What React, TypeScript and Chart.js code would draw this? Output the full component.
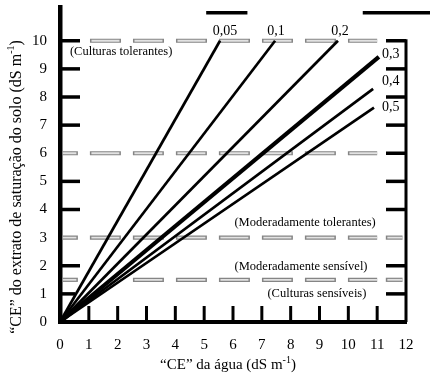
import React, { useEffect, useRef } from 'react';
import { Chart, registerables } from 'chart.js';

Chart.register(...registerables);

// ---- data ----
const leachingFractions = ['0,05', '0,1', '0,2', '0,3', '0,4', '0,5'];
const lineEndWater = [5.55, 7.46, 9.64, 11.06, 10.86, 10.89];
const lineEndSoil = [10, 10, 10, 9.43, 8.29, 7.62];

const xTickValues = [0, 1, 2, 3, 4, 5, 6, 7, 8, 9, 10, 11, 12];
const yTickValues = [0, 1, 2, 3, 4, 5, 6, 7, 8, 9, 10];

const toleranceLabels = [
  '(Culturas tolerantes)',
  '(Moderadamente tolerantes)',
  '(Moderadamente sensível)',
  '(Culturas sensíveis)',
];
// dashed class limits (level, from, to)
const limitLevel = [10, 6, 3, 1.5, 1.5, 3, 1.5];
const limitFrom = [1.04, 0.1, 0.1, 0.1, 2.53, 11.3, 11.3];
const limitTo = [11.0, 11.0, 11.0, 0.62, 11.0, 11.88, 11.88];

const leftTickValues = [1, 2, 4, 5, 7, 8, 9, 10];
const rightTickValues = [1, 2, 4, 5, 6, 7, 8, 9, 10];
const bottomTickValues = [1, 2, 3, 4, 5, 6, 7, 8, 9, 10, 11];
const topMarkLevel = 11.0;
const topMarkFrom = [5.07, 10.5];
const topMarkTo = [6.5, 12.85];

// ---- styles / placement ----
const SERIF = '"Liberation Serif", "Times New Roman", serif';
const limitPhase = [0, 16, 16, 16, 0, 0, 0];
const fanWidths = [2.7, 2.7, 2.7, 4.2, 2.7, 2.7];
const fanLabelPos = [
  { x: 5.72, y: 10.32, align: 'center' },
  { x: 7.49, y: 10.32, align: 'center' },
  { x: 9.71, y: 10.32, align: 'center' },
  { x: 11.17, y: 9.5, align: 'left' },
  { x: 11.17, y: 8.54, align: 'left' },
  { x: 11.17, y: 7.62, align: 'left' },
];
const classLabelPos = [
  { x: 2.12, y: 9.6 },
  { x: 8.5, y: 3.52 },
  { x: 8.36, y: 1.96 },
  { x: 8.91, y: 1.0 },
];

function drawSupText(ctx: CanvasRenderingContext2D, main: string, sup: string, tail: string, size: number) {
  ctx.font = `${size}px ${SERIF}`;
  const w1 = ctx.measureText(main).width;
  const w3 = ctx.measureText(tail).width;
  ctx.font = `${Math.round(size * 0.65)}px ${SERIF}`;
  const w2 = ctx.measureText(sup).width;
  let x = -(w1 + w2 + w3) / 2;
  ctx.textAlign = 'left';
  ctx.textBaseline = 'middle';
  ctx.font = `${size}px ${SERIF}`;
  ctx.fillText(main, x, 0);
  x += w1;
  ctx.font = `${Math.round(size * 0.65)}px ${SERIF}`;
  ctx.fillText(sup, x, -size * 0.33);
  x += w2;
  ctx.font = `${size}px ${SERIF}`;
  ctx.fillText(tail, x, 0);
}

const overlayPlugin = {
  id: 'overlay',
  afterDatasetsDraw(chart: any) {
    const { ctx, scales } = chart;
    const xs = scales.x;
    const ys = scales.y;
    const px = (v: number) => xs.getPixelForValue(v);
    const py = (v: number) => ys.getPixelForValue(v);
    const seg = (x1: number, y1: number, x2: number, y2: number) => {
      ctx.beginPath();
      ctx.moveTo(x1, y1);
      ctx.lineTo(x2, y2);
      ctx.stroke();
    };
    ctx.save();
    ctx.strokeStyle = '#000';
    ctx.lineCap = 'butt';
    // right frame line
    ctx.lineWidth = 3;
    seg(px(12), py(0), px(12), py(10) - 1.5);
    // inward ticks
    ctx.lineWidth = 3.5;
    leftTickValues.forEach((v) => seg(px(0), py(v), px(0) + (v === 1 ? 15 : 20), py(v)));
    rightTickValues.forEach((v) => seg(px(12), py(v), px(12) - 20, py(v)));
    ctx.lineWidth = 3;
    bottomTickValues.forEach((v) => seg(px(v), py(0), px(v), py(0) - 16));
    // top marks
    ctx.lineWidth = 3.5;
    topMarkFrom.forEach((f, i) => seg(px(f), py(topMarkLevel), px(topMarkTo[i]), py(topMarkLevel)));
    ctx.restore();
  },
  afterDraw(chart: any) {
    const { ctx, scales } = chart;
    const xs = scales.x;
    const ys = scales.y;
    const px = (v: number) => xs.getPixelForValue(v);
    const py = (v: number) => ys.getPixelForValue(v);
    ctx.save();
    ctx.fillStyle = '#000';
    ctx.textBaseline = 'middle';
    ctx.font = `14px ${SERIF}`;
    leachingFractions.forEach((t, i) => {
      const p = fanLabelPos[i];
      ctx.textAlign = p.align as CanvasTextAlign;
      ctx.fillText(t, px(p.x), py(p.y));
    });
    ctx.font = `12.5px ${SERIF}`;
    ctx.textAlign = 'center';
    toleranceLabels.forEach((t, i) => {
      const p = classLabelPos[i];
      ctx.fillText(t, px(p.x), py(p.y));
    });
    // axis titles
    ctx.save();
    ctx.translate(228, 365);
    drawSupText(ctx, '“CE” da água (dS m', '-1', ')', 15);
    ctx.restore();
    ctx.save();
    ctx.translate(17, 187);
    ctx.rotate(-Math.PI / 2);
    drawSupText(ctx, '“CE” do extrato de saturação do solo (dS m', '-1', ')', 16);
    ctx.restore();
    ctx.restore();
  },
};

export default function App() {
  const ref = useRef<HTMLCanvasElement | null>(null);

  useEffect(() => {
    document.body.style.margin = '0';
    const canvas = ref.current;
    if (!canvas) return;

    const fanSets = leachingFractions.map((lf, i) => ({
      label: lf,
      data: [
        { x: 0, y: 0 },
        { x: lineEndWater[i], y: lineEndSoil[i] },
      ],
      borderColor: '#000',
      borderWidth: fanWidths[i],
      pointRadius: 0,
      fill: false,
      order: 0,
      clip: false as any,
    }));
    const limitInner = limitLevel.map((lv, i) => ({
      label: 'inner' + i,
      data: [
        { x: limitFrom[i], y: lv },
        { x: limitTo[i], y: lv },
      ],
      borderColor: '#e2e2e2',
      borderWidth: 1.8,
      borderDash: [28, 15],
      borderDashOffset: limitPhase[i] - 1.5,
      borderCapStyle: 'butt' as const,
      pointRadius: 0,
      fill: false,
      order: 1,
    }));
    const limitOuter = limitLevel.map((lv, i) => ({
      label: 'outer' + i,
      data: [
        { x: limitFrom[i], y: lv },
        { x: limitTo[i], y: lv },
      ],
      borderColor: '#858585',
      borderWidth: 4.2,
      borderDash: [31, 12],
      borderDashOffset: limitPhase[i],
      borderCapStyle: 'butt' as const,
      pointRadius: 0,
      fill: false,
      order: 2,
    }));

    const tickFont = { family: SERIF, size: 15, lineHeight: 1 };

    const chart = new Chart(canvas, {
      type: 'line',
      data: { datasets: [...fanSets, ...limitInner, ...limitOuter] as any },
      plugins: [overlayPlugin as any],
      options: {
        animation: false,
        responsive: false,
        maintainAspectRatio: false,
        devicePixelRatio: 1,
        layout: { padding: { top: 7, right: 24, left: 0, bottom: 0 } },
        plugins: { legend: { display: false }, tooltip: { enabled: false } },
        elements: { line: { tension: 0 } },
        scales: {
          x: {
            type: 'linear',
            min: 0,
            max: 12,
            afterBuildTicks: (s: any) => {
              s.ticks = xTickValues.map((v) => ({ value: v }));
            },
            afterFit: (s: any) => {
              s.height = 54;
              s.paddingLeft = 0;
              s.paddingRight = 0;
              s.paddingTop = 0;
              s.paddingBottom = 0;
            },
            grid: { display: false, drawTicks: false },
            border: { display: true, color: '#000', width: 4 },
            ticks: { color: '#000', font: tickFont, padding: 16, maxRotation: 0, autoSkip: false },
          },
          y: {
            type: 'linear',
            min: 0,
            max: 11.2,
            afterBuildTicks: (s: any) => {
              s.ticks = yTickValues.map((v) => ({ value: v }));
            },
            afterFit: (s: any) => {
              s.width = 60;
              s.paddingLeft = 0;
              s.paddingRight = 0;
              s.paddingTop = 0;
              s.paddingBottom = 0;
            },
            grid: { display: false, drawTicks: false },
            border: { display: true, color: '#000', width: 4.5 },
            ticks: { color: '#000', font: tickFont, padding: 13, autoSkip: false },
          },
        },
      },
    });
    return () => chart.destroy();
  }, []);

  return (
    <div style={{ position: 'fixed', left: 0, top: 0, width: 430, height: 376, background: '#fff' }}>
      <canvas ref={ref} width={430} height={376} style={{ display: 'block', width: 430, height: 376 }} />
    </div>
  );
}
